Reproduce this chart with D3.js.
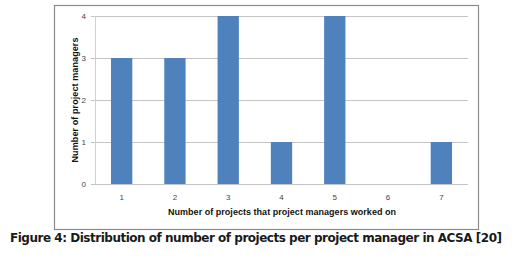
<!DOCTYPE html>
<html>
<head>
<meta charset="utf-8">
<script src="https://cdn.jsdelivr.net/npm/d3@7"></script>
<style>
  body { margin: 0; background: #fff; }
  #vis { width: 527px; height: 260px; }
</style>
</head>
<body>
<div id="vis"></div>
<script>
// data
var categories = ['1', '2', '3', '4', '5', '6', '7'];
var managers = [3, 3, 4, 1, 4, 0, 1];
var y_ticks = [0, 1, 2, 3, 4];

var width = 527, height = 260;

var svg = d3.select('#vis')
    .append('svg')
    .attr('width', width)
    .attr('height', height);

// chart frame
svg.append('rect')
    .attr('x', 54.5)
    .attr('y', 5.5)
    .attr('width', 424)
    .attr('height', 224)
    .attr('fill', '#fff')
    .attr('stroke', '#8c8c8c')
    .attr('stroke-width', 1.2);

var plot = { left: 95, right: 468, top: 16, bottom: 184 };

var x_scale = d3.scaleBand()
    .domain(categories)
    .range([plot.left, plot.right]);

var y_scale = d3.scaleLinear()
    .domain([0, 4])
    .range([plot.bottom, plot.top]);

// gridlines (with little ticks left of the axis)
svg.append('g')
    .selectAll('line')
    .data(y_ticks)
    .enter()
    .append('line')
    .attr('x1', plot.left - 4)
    .attr('x2', plot.right)
    .attr('y1', function(d) { return Math.round(y_scale(d)) + 0.5; })
    .attr('y2', function(d) { return Math.round(y_scale(d)) + 0.5; })
    .attr('stroke', '#c4c4c4')
    .attr('stroke-width', 1);

// left axis line
svg.append('line')
    .attr('x1', plot.left + 0.5)
    .attr('x2', plot.left + 0.5)
    .attr('y1', plot.top)
    .attr('y2', plot.bottom)
    .attr('stroke', '#d0d0d0');

var bw = x_scale.bandwidth() * 0.4;

svg.append('g')
    .selectAll('.bar')
    .data(managers)
    .enter()
    .append('rect')
    .attr('class', 'bar')
    .attr('x', function(d, i) { return x_scale(categories[i]) + (x_scale.bandwidth() - bw) / 2; })
    .attr('width', bw)
    .attr('y', function(d) { return y_scale(d); })
    .attr('height', function(d) { return y_scale(0) - y_scale(d); })
    .attr('fill', '#4f81bd');

// y tick labels
svg.append('g')
    .selectAll('text')
    .data(y_ticks)
    .enter()
    .append('text')
    .attr('x', 86)
    .attr('y', function(d) { return y_scale(d); })
    .attr('dy', '0.35em')
    .attr('text-anchor', 'end')
    .style('font', '8px "Liberation Sans", Arial, sans-serif')
    .style('fill', '#444')
    .text(function(d) { return d; });

// x tick labels
svg.append('g')
    .selectAll('text')
    .data(categories)
    .enter()
    .append('text')
    .attr('x', function(d) { return x_scale(d) + x_scale.bandwidth() / 2; })
    .attr('y', 197)
    .attr('dy', '0.35em')
    .attr('text-anchor', 'middle')
    .style('font', '8px "Liberation Sans", Arial, sans-serif')
    .style('fill', '#444')
    .text(function(d) { return d; });

// axis titles
svg.append('text')
    .attr('x', 282)
    .attr('y', 212)
    .attr('dy', '0.35em')
    .attr('text-anchor', 'middle')
    .attr('textLength', 228)
    .style('font', 'bold 9px "Liberation Sans", Arial, sans-serif')
    .style('fill', '#111')
    .text('Number of projects that project managers worked on');

svg.append('text')
    .attr('transform', 'translate(75,100) rotate(-90)')
    .attr('dy', '0.35em')
    .attr('text-anchor', 'middle')
    .attr('textLength', 125)
    .style('font', 'bold 9px "Liberation Sans", Arial, sans-serif')
    .style('fill', '#111')
    .text('Number of project managers');

// caption
svg.append('text')
    .attr('x', 10)
    .attr('y', 242)
    .attr('textLength', 492)
    .style('font', 'bold 12px "DejaVu Sans", sans-serif')
    .style('fill', '#1a1a1a')
    .text('Figure 4: Distribution of number of projects per project manager in ACSA [20]');
</script>
</body>
</html>
